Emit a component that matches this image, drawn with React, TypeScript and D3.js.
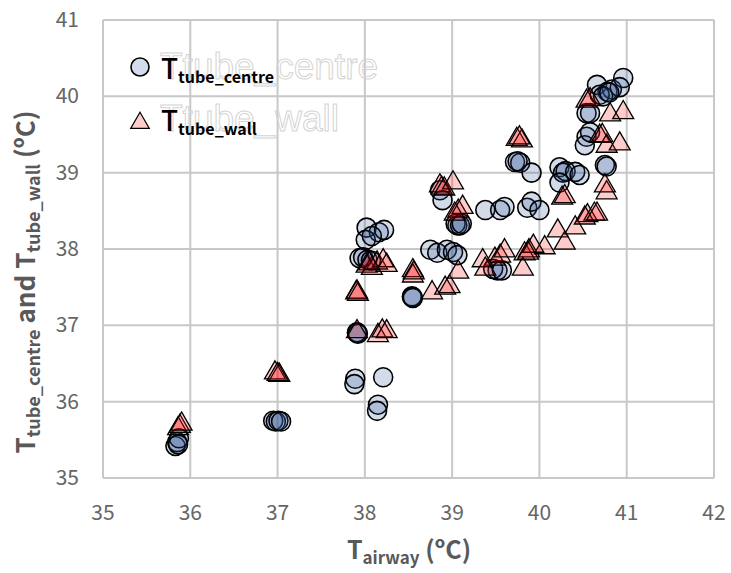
import React from "react";
import * as d3 from "d3";

const centreX = [35.83,35.85,35.87,35.86,36.95,36.98,37.01,37.04,37.89,37.88,38.21,38.15,38.14,37.91,37.91,37.92,38.02,38.16,38.22,38.01,38.08,37.94,37.98,38.03,38.07,38.54,38.54,38.55,38.75,38.83,38.94,39.01,39.06,38.86,38.89,39.06,39.04,39.09,39.11,39.38,39.55,39.60,39.86,39.91,40.00,39.72,39.78,39.75,39.91,39.52,39.47,39.57,40.23,40.27,40.30,40.41,40.46,40.23,40.54,40.52,40.58,40.54,40.58,40.75,40.77,40.66,40.78,40.83,40.96,40.92,40.69,40.73,40.80];
const centreY = [35.42,35.47,35.52,35.44,35.75,35.74,35.75,35.74,36.30,36.23,36.32,35.96,35.88,36.90,36.91,36.89,38.28,38.22,38.25,38.12,38.17,37.88,37.89,37.86,37.85,37.37,37.38,37.36,37.99,37.95,37.99,37.96,37.92,38.77,38.64,38.31,38.33,38.31,38.33,38.51,38.51,38.55,38.54,38.62,38.51,39.14,39.13,39.15,39.00,37.72,37.74,37.72,39.07,39.00,39.02,39.01,38.97,38.87,39.47,39.36,39.53,39.78,39.78,39.10,39.08,40.15,40.06,40.09,40.24,40.12,40.02,40.00,40.05];

const wallX = [35.86,35.88,35.90,36.97,37.02,37.00,37.90,37.91,37.92,37.91,38.15,38.20,38.25,38.02,38.08,38.14,38.21,38.25,38.05,38.55,38.55,38.56,38.77,38.92,38.97,39.07,38.88,38.86,38.91,39.01,39.07,39.12,39.03,39.49,39.55,39.60,39.35,39.38,39.83,39.88,39.81,39.74,39.80,39.77,40.26,40.29,40.69,40.72,40.54,40.58,40.81,40.96,40.77,40.92,40.77,40.75,40.55,40.63,40.21,40.29,40.41,40.52,40.66,40.06,39.93,39.87];
const wallY = [35.66,35.69,35.72,36.39,36.36,36.37,37.44,37.45,37.42,36.93,36.88,36.94,36.93,37.79,37.76,37.83,37.86,37.80,37.82,37.73,37.66,37.70,37.44,37.50,37.52,37.71,38.81,38.84,38.80,38.88,38.51,38.56,38.47,37.88,37.92,37.99,37.86,37.75,37.95,37.99,37.75,39.45,39.43,39.47,38.68,38.70,39.49,39.50,39.95,39.97,39.77,39.80,39.36,39.39,38.75,38.84,38.45,38.47,38.25,38.09,38.29,38.42,38.47,38.03,38.05,37.96];

const xTicks = [35, 36, 37, 38, 39, 40, 41, 42];
const yTicks = [35, 36, 37, 38, 39, 40, 41];

const FONT = "'Noto Sans CJK JP', 'Noto Sans', sans-serif";

export default function App() {
  const x = d3.scaleLinear().domain([35, 42]).range([103, 714]);
  const y = d3.scaleLinear().domain([35, 41]).range([478, 20]);
  const tri = d3.symbol().type(d3.symbolTriangle).size(190)() as string;
  const triLegend = d3.symbol().type(d3.symbolTriangle).size(150)() as string;
  const grid = "#c8c8c8";
  const tickColor = "#666666";
  const titleColor = "#595959";

  return (
    <svg width={731} height={573} style={{ position: "absolute", left: 0, top: 0 }} fontFamily={FONT}>
      <rect width={731} height={573} fill="#fff" />
      {xTicks.map((t) => (
        <line key={"gx" + t} x1={x(t)} x2={x(t)} y1={y(41)} y2={y(35)} stroke={grid} strokeWidth={2} />
      ))}
      {yTicks.map((t) => (
        <line key={"gy" + t} x1={x(35)} x2={x(42)} y1={y(t)} y2={y(t)} stroke={grid} strokeWidth={2} />
      ))}
      {xTicks.map((t) => (
        <text key={"tx" + t} x={x(t)} y={520} textAnchor="middle" fontSize={21} fill={tickColor}>{t}</text>
      ))}
      {yTicks.map((t) => (
        <text key={"ty" + t} x={79} y={y(t) + 7} textAnchor="end" fontSize={21} fill={tickColor}>{t}</text>
      ))}

      {/* ghost legend texts */}
      <text x={160} y={79} fontSize={37} fill="none" stroke="#d4d4d4" strokeWidth={1} fontFamily="'Liberation Sans', sans-serif">Ttube_centre</text>
      <text x={160} y={131} fontSize={37} fill="none" stroke="#d4d4d4" strokeWidth={1} fontFamily="'Liberation Sans', sans-serif">Ttube_wall</text>

      {centreX.map((v, i) => (
        <circle key={"c" + i} cx={x(v)} cy={y(centreY[i])} r={9.5} fill="rgba(47,85,151,0.21)" stroke="#000" strokeWidth={1.6} />
      ))}
      {wallX.map((v, i) => (
        <path key={"w" + i} d={tri} transform={`translate(${x(v)},${y(wallY[i]) + 1})`} fill="rgba(255,0,0,0.2)" stroke="#000" strokeWidth={1.3} />
      ))}

      {/* legend */}
      <circle cx={140} cy={67} r={9} fill="rgb(210,220,236)" stroke="#000" strokeWidth={1.6} />
      <text x={161} y={79} fontSize={28} fill="#000" fontWeight={500}>T<tspan fontSize={16} fontWeight={700} dy={4}>tube_centre</tspan></text>
      <path d={triLegend} transform="translate(140,123)" fill="rgb(255,204,204)" stroke="#000" strokeWidth={1.2} />
      <text x={161} y={131} fontSize={28} fill="#000" fontWeight={500}>T<tspan fontSize={16} fontWeight={700} dy={4}>tube_wall</tspan></text>

      {/* axis titles */}
      <text x={409} y={559} textAnchor="middle" fontSize={25} fontWeight={700} fill={titleColor}>
        T<tspan fontSize={17} dy={5}>airway</tspan><tspan dy={-5}> (ºC)</tspan>
      </text>
      <text transform="translate(35,282) rotate(-90)" textAnchor="middle" fontSize={26} fontWeight={700} fill={titleColor}>
        T<tspan fontSize={18} dy={5}>tube_centre</tspan><tspan dy={-5}> and T</tspan><tspan fontSize={18} dy={5}>tube_wall</tspan><tspan dy={-5}> (ºC)</tspan>
      </text>
    </svg>
  );
}
